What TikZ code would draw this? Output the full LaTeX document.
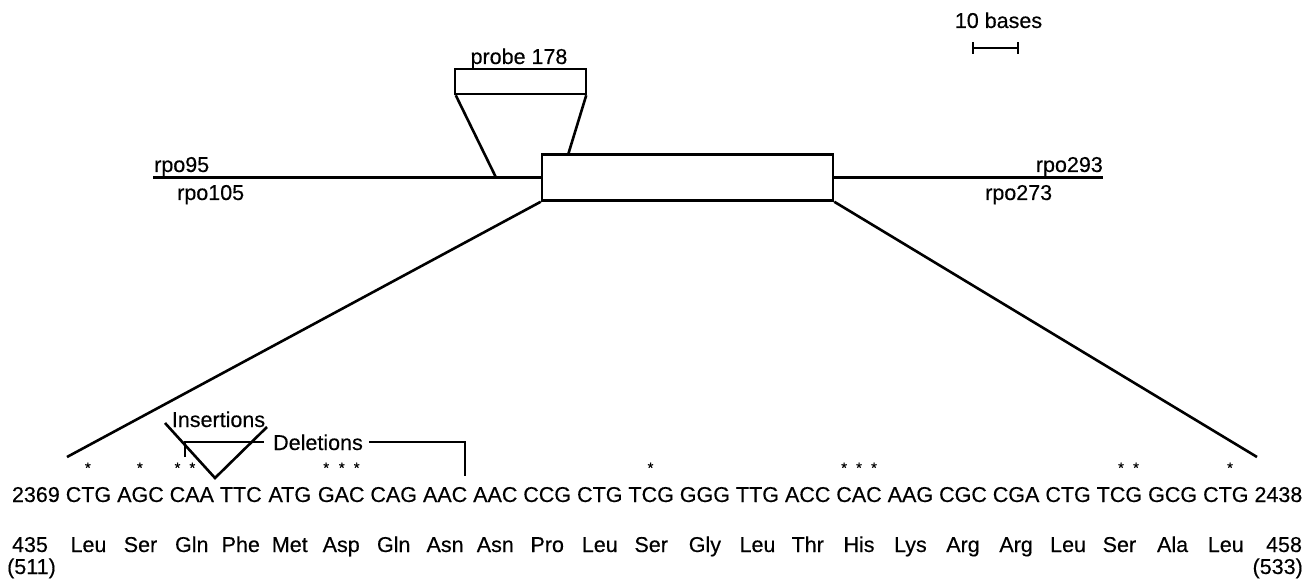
\documentclass[tikz,border=0pt]{standalone}
\usepackage{fontspec}
\setmainfont{Liberation Sans}[FakeBold=0.35]
\begin{document}
\begin{tikzpicture}[x=1pt,y=-1pt,
  lbl/.style={font=\fontsize{21.5}{24}\selectfont, inner sep=0pt, anchor=base},
  starmark/.style={font=\fontsize{15}{16}\selectfont, inner sep=0pt, anchor=base},
  heavy/.style={line width=2.6pt},
  thinline/.style={line width=1.8pt},
  boxshape/.style={draw, line width=2.5pt, inner sep=0pt}]
\useasboundingbox (0,0) rectangle (1310,580);

% scale bar
\node[lbl] (scalelbl) at (998.5,28) {10 bases};
\coordinate (sbL) at (973,48);
\coordinate (sbR) at (1018,48);
\draw[line width=2pt] (sbL) -- (sbR);
\draw[line width=2pt] ([yshift=-6pt]sbL) -- ([yshift=6pt]sbL);
\draw[line width=2pt] ([yshift=-6pt]sbR) -- ([yshift=6pt]sbR);

% probe
\node[boxshape, minimum width=131pt, minimum height=25pt] (probe) at (520.5,81.5) {};
\node[lbl] (probelbl) at (519,64) {probe 178};
\coordinate (pL) at (496,177.5);
\coordinate (pR) at (568,155);
\draw[heavy] ([xshift=2pt]probe.south west) -- (pL);
\draw[heavy] ([xshift=-1pt]probe.south east) -- (pR);

% gene line and box
\node[boxshape, minimum width=291pt, minimum height=46pt] (gene) at (687.5,177.5) {};
\coordinate (lend) at (153,177.5);
\coordinate (rend) at (1103,177.5);
\draw[line width=2.1pt] (lend) -- (gene.west);
\draw[line width=2.1pt] (gene.east) -- (rend);
\node[lbl, anchor=base west] (rpo95) at (154,172) {rpo95};
\node[lbl, anchor=base west] (rpo105) at (177,200) {rpo105};
\node[lbl, anchor=base east] (rpo293) at (1103,172) {rpo293};
\node[lbl, anchor=base west] (rpo273) at (985,200) {rpo273};

% expansion lines
\coordinate (eL) at (67,457);
\coordinate (eR) at (1257,457);
\draw[heavy] (gene.south west) -- (eL);
\draw[heavy] (gene.south east) -- (eR);

% insertions / deletions
\node[lbl] (ins) at (218.5,427) {Insertions};
\coordinate (vL) at (165,423);
\coordinate (vB) at (215,478);
\coordinate (vR) at (267,427);
\draw[heavy] (vL) -- (vB) -- (vR);
\node[lbl, anchor=base west] (del) at (273,450) {Deletions};
\coordinate (dl) at (185,457);
\coordinate (dr) at (465,476);
\draw[thinline] (dl) |- ([xshift=-9pt]del.west);
\draw[thinline] ([xshift=6pt]del.east) -| (dr);

% stars
\foreach \sx [count=\j] in {87.9,139.9,177.5,192.4,326.2,341.8,356.7,650.5,844.1,859,874,1121,1136,1230}
  \node[starmark] (s\j) at (\sx,473) {*};

% sequence and amino acids
\node[lbl] (n2369) at (35.9,502) {2369};
\node[lbl] (n2438) at (1278.4,502) {2438};
\foreach \x/\c/\a [count=\i] in {88.5/CTG/Leu,140.5/AGC/Ser,191.8/CAA/Gln,240.8/TTC/Phe,289.8/ATG/Met,341.2/GAC/Asp,393.7/CAG/Gln,445.1/AAC/Asn,495.3/AAC/Asn,547.2/CCG/Pro,599.8/CTG/Leu,651.2/TCG/Ser,704.9/GGG/Gly,757.5/TTG/Leu,807.7/ACC/Thr,859.0/CAC/His,910.4/AAG/Lys,963.0/CGC/Arg,1016.1/CGA/Arg,1068.1/CTG/Leu,1119.4/TCG/Ser,1172.6/GCG/Ala,1225.8/CTG/Leu}
{
  \node[lbl] (c\i) at (\x,502) {\c};
  \node[lbl] (a\i) at (\x,552) {\a};
}
\node[lbl] (n435) at (30,552) {435};
\node[lbl, anchor=base west] (n511) at (7,574) {(511)};
\node[lbl] (n458) at (1284,552) {458};
\node[lbl, anchor=base east] (n533) at (1303,574) {(533)};
\end{tikzpicture}
\end{document}
